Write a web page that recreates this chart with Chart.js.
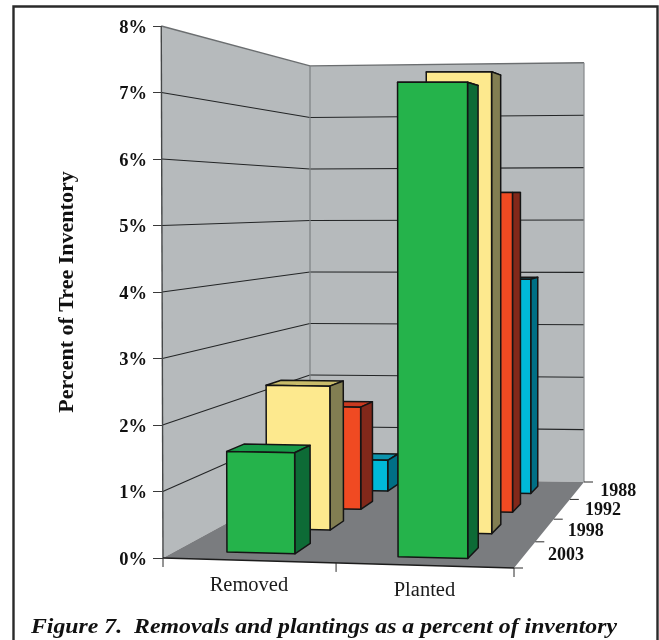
<!DOCTYPE html>
<html>
<head>
<meta charset="utf-8">
<style>
  html, body { margin: 0; padding: 0; background: #fff; }
  #wrap { width: 659px; height: 640px; }
</style>
<script src="https://cdn.jsdelivr.net/npm/chart.js@4"></script>
</head>
<body>
<div id="wrap"><canvas id="grafico" width="659" height="640"></canvas></div>
<script>
// data
const categories = ["Removed", "Planted"];
const years = ["2003", "1998", "1992", "1988"];
const values2003 = [1.54, 7.18];
const values1998 = [2.35, 7.47];
const values1992 = [1.78, 5.52];
const values1988 = [0.57, 3.93];
const caption = "Figure 7.  Removals and plantings as a percent of inventory";

const serif = "'Liberation Serif', 'Times New Roman', serif";
const faces = [
  { front: "#25b34b", side: "#0d6b36", top: "#179a48" },
  { front: "#fde98e", side: "#827e52", top: "#c9bc6a" },
  { front: "#f04a22", side: "#82281a", top: "#c93a20" },
  { front: "#00b9d8", side: "#006f85", top: "#0b93ad" },
];
const barShare = 0.4;
const depthShare = 0.42;

// floor u,v (0..1) + value -> canvas point, perspective from the floor quad
function project(chart, u0, v, val) {
  const a = chart.chartArea;
  const L = a.left, R = a.right, B = a.bottom;
  const u = u0 + 0.03 * u0 * (1 - u0); // source squeezes less along the front than the quad says
  const p0 = [L, B], p1 = [R, B + 10], p2 = [L + 421, B - 76], p3 = [L + 147, B - 80];
  const dx1 = p1[0] - p2[0], dx2 = p3[0] - p2[0], sx = p0[0] - p1[0] + p2[0] - p3[0];
  const dy1 = p1[1] - p2[1], dy2 = p3[1] - p2[1], sy = p0[1] - p1[1] + p2[1] - p3[1];
  const den = dx1 * dy2 - dx2 * dy1;
  const g = (sx * dy2 - dx2 * sy) / den;
  const h = (dx1 * sy - sx * dy1) / den;
  const w = 1 + g * u + h * v;
  const x = ((p1[0] - p0[0] + g * p1[0]) * u + (p3[0] - p0[0] + h * p3[0]) * v + p0[0]) / w;
  const y = ((p1[1] - p0[1] + g * p1[1]) * u + (p3[1] - p0[1] + h * p3[1]) * v + p0[1]) / w;
  const ys = chart.scales.y;
  const rise = (ys.getPixelForValue(0) - ys.getPixelForValue(val)) / (1 - 0.022 * u + 0.291 * v);
  return [x - 0.22 * val * (1 - u) * (1 - v), y - rise];
}

function poly(ctx, pts, fill, stroke, lw) {
  ctx.beginPath();
  pts.forEach((p, i) => (i ? ctx.lineTo(p[0], p[1]) : ctx.moveTo(p[0], p[1])));
  ctx.closePath();
  if (fill) { ctx.fillStyle = fill; ctx.fill(); }
  if (stroke) { ctx.strokeStyle = stroke; ctx.lineWidth = lw || 1; ctx.stroke(); }
}

function line(ctx, a, b, color, lw) {
  ctx.beginPath();
  ctx.moveTo(a[0], a[1]);
  ctx.lineTo(b[0], b[1]);
  ctx.strokeStyle = color;
  ctx.lineWidth = lw || 1;
  ctx.stroke();
}

const room = {
  id: "room",
  beforeDatasetsDraw(chart) {
    const ctx = chart.ctx, P = (u, v, val) => project(chart, u, v, val);
    const top = chart.scales.y.max;
    ctx.save();
    ctx.lineJoin = "round";
    // walls and floor
    poly(ctx, [P(0, 0, 0), P(0, 1, 0), P(0, 1, top), P(0, 0, top)], "#b6babc");
    poly(ctx, [P(0, 1, 0), P(1, 1, 0), P(1, 1, top), P(0, 1, top)], "#b6babc");
    poly(ctx, [P(0, 0, 0), P(1, 0, 0), P(1, 1, 0), P(0, 1, 0)], "#7a7c7f");
    // grid
    chart.scales.y.ticks.forEach((t) => {
      if (t.value === 0 || t.value === top) return;
      line(ctx, P(0, 0, t.value), P(0, 1, t.value), "#232526", 1.1);
      line(ctx, P(0, 1, t.value), P(1, 1, t.value), "#232526", 1.1);
    });
    // edges
    line(ctx, P(0, 0, top), P(0, 1, top), "#6b6e70", 1.4);
    line(ctx, P(0, 1, top), P(1, 1, top), "#6b6e70", 1.4);
    line(ctx, P(0, 1, 0), P(0, 1, top), "#7c8082", 1.2);
    line(ctx, P(1, 1, 0), P(1, 1, top), "#85898b", 1.2);
    line(ctx, P(0, 0, 0), P(0, 0, top), "#454748", 1.4);
    line(ctx, P(0, 0, 0), P(1, 0, 0), "#1c1c1c", 1.3);
    // ticks along the front and depth edges
    [0, 0.5, 1].forEach((u) => {
      const p = P(u, 0, 0);
      line(ctx, p, [p[0], p[1] + 9], "#2b2b2b", 1);
    });
    [0, 0.25, 0.5, 0.75, 1].forEach((v) => {
      const p = P(1, v, 0);
      line(ctx, p, [p[0] + 9, p[1]], "#2b2b2b", 1);
    });
    ctx.restore();
  },
  // each bar becomes a box, datasets come back to front
  beforeDatasetDraw(chart, args) {
    const ctx = chart.ctx, xs = chart.scales.x, zs = chart.scales.z;
    const val = chart.data.datasets[args.index].data;
    const face = faces[args.index];
    const v = (zs.getPixelForValue(args.index) - zs.left) / zs.width;
    const halfV = depthShare / years.length / 2;
    ctx.save();
    ctx.lineJoin = "round";
    args.meta.data.forEach((bar, i) => {
      const u0 = (bar.x - bar.width / 2 - xs.left) / xs.width;
      const u1 = (bar.x + bar.width / 2 - xs.left) / xs.width;
      const v0 = v - halfV, v1 = v + halfV, n = val[i];
      const P = (u, d, h) => project(chart, u, d, h);
      poly(ctx, [P(u0, v0, n), P(u1, v0, n), P(u1, v1, n), P(u0, v1, n)], face.top, "#141414", 1.5);
      poly(ctx, [P(u1, v0, 0), P(u1, v1, 0), P(u1, v1, n), P(u1, v0, n)], face.side, "#141414", 1.5);
      poly(ctx, [P(u0, v0, 0), P(u1, v0, 0), P(u1, v0, n), P(u0, v0, n)], face.front, "#141414", 1.5);
    });
    ctx.restore();
    return false;
  },
  afterDraw(chart) {
    const ctx = chart.ctx, xs = chart.scales.x, zs = chart.scales.z;
    ctx.save();
    // frame, open at the bottom of the page
    ctx.strokeStyle = "#2a2a2a";
    ctx.lineWidth = 2.4;
    ctx.beginPath();
    ctx.moveTo(13.5, 640);
    ctx.lineTo(13.5, 6.5);
    ctx.lineTo(657.5, 6.5);
    ctx.lineTo(657.5, 640);
    ctx.stroke();
    // category names follow the tilted front edge
    ctx.fillStyle = "#1a1a1a";
    ctx.textAlign = "center";
    ctx.textBaseline = "middle";
    ctx.font = "20.5px " + serif;
    categories.forEach((c, i) => {
      const p = project(chart, (xs.getPixelForValue(i) - xs.left) / xs.width, 0, 0);
      ctx.fillText(c, p[0], p[1] + 25);
    });
    // years along the depth edge
    ctx.fillStyle = "#111";
    ctx.textAlign = "left";
    ctx.font = "bold 18px " + serif;
    years.forEach((yr, i) => {
      const p = project(chart, 1, (zs.getPixelForValue(i) - zs.left) / zs.width, 0);
      ctx.fillText(yr, p[0] + 23, p[1] + 1);
    });
    // caption, the source type is set wider than the font
    ctx.font = "italic bold 22px " + serif;
    ctx.textBaseline = "alphabetic";
    ctx.translate(31, 632.5);
    ctx.scale(586 / ctx.measureText(caption).width, 1);
    ctx.fillText(caption, 0, 0);
    ctx.restore();
  },
};

new Chart(document.getElementById("grafico"), {
  type: "bar",
  data: {
    labels: categories,
    datasets: [
      { label: years[0], data: values2003, backgroundColor: faces[0].front },
      { label: years[1], data: values1998, backgroundColor: faces[1].front },
      { label: years[2], data: values1992, backgroundColor: faces[2].front },
      { label: years[3], data: values1988, backgroundColor: faces[3].front },
    ],
  },
  plugins: [room],
  options: {
    responsive: false,
    animation: false,
    layout: { padding: { left: 0, right: 145, top: 26, bottom: 0 } },
    datasets: { bar: { grouped: false, barPercentage: barShare, categoryPercentage: 1 } },
    plugins: {
      legend: { display: false },
      tooltip: { enabled: false },
    },
    scales: {
      x: {
        offset: true,
        ticks: { display: false },
        grid: { display: false },
        border: { display: false },
        afterFit(s) { s.height = 82; },
      },
      z: {
        type: "category",
        axis: "x",
        position: "top",
        display: false,
        offset: true,
        labels: years,
      },
      y: {
        min: 0,
        max: 8,
        afterFit(s) { s.width = 163; },
        ticks: {
          stepSize: 1,
          padding: 6,
          labelOffset: 2,
          color: "#111",
          font: { family: serif, size: 18.5, weight: "bold" },
          callback: (v) => v + "%",
        },
        grid: { drawOnChartArea: false, tickLength: 10, color: "#3a3a3a", lineWidth: 1 },
        border: { display: false },
        title: {
          display: true,
          text: "Percent of Tree Inventory",
          color: "#111",
          padding: { top: 56, bottom: 0 },
          font: { family: serif, size: 22, weight: "bold", lineHeight: 1 },
        },
      },
    },
  },
});
</script>
</body>
</html>
